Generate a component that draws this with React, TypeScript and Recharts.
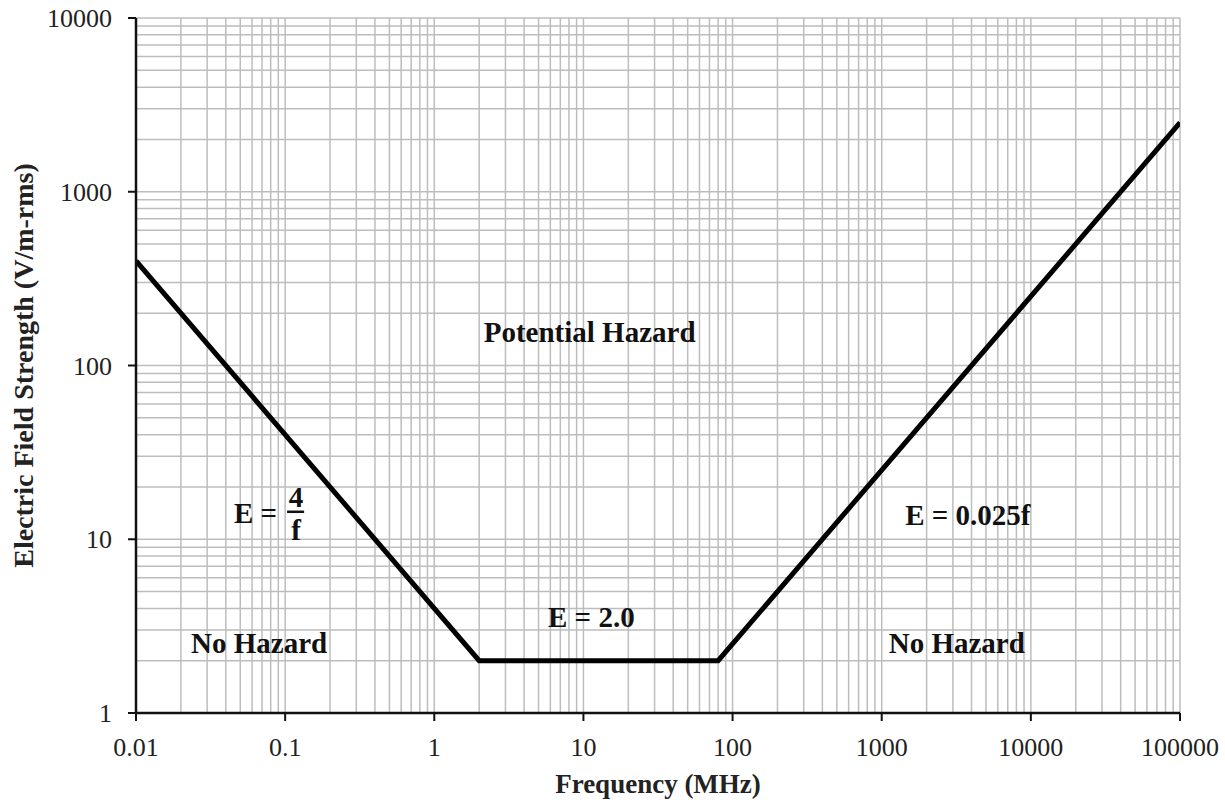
import React from 'react';
import {
  ComposedChart, Line, XAxis, YAxis, CartesianGrid, ReferenceDot,
} from 'recharts';

// Break points of the limit curve (MHz, V/m-rms)
const frequency = [0.01, 2, 80, 100000];
const fieldStrength = [400, 2, 2, 2500];

const xTicks = [0.01, 0.1, 1, 10, 100, 1000, 10000, 100000];
const yTicks = [1, 10, 100, 1000, 10000];
const minorSteps = [1, 2, 3, 4, 5, 6, 7, 8, 9];

// Text placed in the plot, in data coordinates
const notes = [
  { id: 'potential', x: 11, y: 156, text: 'Potential Hazard' },
  { id: 'eflat', x: 11.3, y: 3.57, text: 'E = 2.0' },
  { id: 'ehigh', x: 3776, y: 13.8, text: 'E = 0.025f' },
  { id: 'noLeft', x: 0.0669, y: 2.53, text: 'No Hazard' },
  { id: 'noRight', x: 3186, y: 2.53, text: 'No Hazard' },
];
const fractionNote = { x: 0.0734, y: 14.2, lhs: 'E =', num: '4', den: 'f' };

const data = frequency.map((f, i) => ({ f, e: fieldStrength[i] }));

const gridFrom = (decades: number[]) => {
  const out: number[] = [];
  decades.slice(0, -1).forEach((d) => minorSteps.forEach((m) => out.push(d * m)));
  out.push(decades[decades.length - 1]);
  return out;
};
const xGrid = gridFrom(xTicks);
const yGrid = gridFrom(yTicks);

const FONT = '"Liberation Serif", "Times New Roman", serif';

const NoteLabel = (text: string) => (props: any) => {
  const { viewBox } = props;
  const cx = viewBox.x + (viewBox.width || 0) / 2;
  const cy = viewBox.y + (viewBox.height || 0) / 2;
  return (
    <text x={cx} y={cy} textAnchor="middle" dominantBaseline="central"
      fontFamily={FONT} fontWeight="bold" fontSize={29} fill="#111">
      {text}
    </text>
  );
};

const FractionLabel = (props: any) => {
  const { viewBox } = props;
  const cx = viewBox.x + (viewBox.width || 0) / 2;
  const cy = viewBox.y + (viewBox.height || 0) / 2;
  return (
    <g fontFamily={FONT} fontWeight="bold" fontSize={29} fill="#111">
      <text x={cx + 12} y={cy} textAnchor="end" dominantBaseline="central">{fractionNote.lhs}</text>
      <text x={cx + 31} y={cy - 16} textAnchor="middle" dominantBaseline="central">{fractionNote.num}</text>
      <line x1={cx + 22} x2={cx + 39} y1={cy - 1} y2={cy - 1} stroke="#111" strokeWidth={2.5} />
      <text x={cx + 31} y={cy + 17} textAnchor="middle" dominantBaseline="central">{fractionNote.den}</text>
    </g>
  );
};

const XTitle = (props: any) => {
  const { viewBox } = props;
  return (
    <text x={viewBox.x + viewBox.width / 2} y={viewBox.y + 71} textAnchor="middle"
      dominantBaseline="central" fontFamily={FONT} fontWeight="bold" fontSize={27} fill="#222">
      Frequency (MHz)
    </text>
  );
};

const YTitle = (props: any) => {
  const { viewBox } = props;
  const cy = viewBox.y + viewBox.height / 2;
  return (
    <text x={23} y={cy} transform={`rotate(-90, 23, ${cy})`} textAnchor="middle"
      dominantBaseline="central" fontFamily={FONT} fontWeight="bold" fontSize={28} fill="#222">
      Electric Field Strength (V/m-rms)
    </text>
  );
};

const tickStyle = { fontFamily: FONT, fontSize: 26, fill: '#222' };

export default function App() {
  return (
    <div style={{ position: 'absolute', left: 0, top: 0, background: '#fff' }}>
      <ComposedChart width={1225} height={800} data={data}
        margin={{ top: 18, right: 45, bottom: 0, left: 0 }}>
        <CartesianGrid stroke="#bdbdbd" strokeWidth={1.5}
          verticalValues={xGrid} horizontalValues={yGrid} />
        <XAxis dataKey="f" type="number" scale="log" domain={[0.01, 100000]}
          ticks={xTicks} tickFormatter={(v: number) => String(v)} interval={0}
          allowDataOverflow height={87} tick={tickStyle} tickSize={8} tickMargin={17}
          axisLine={{ stroke: '#111', strokeWidth: 2.5 }} tickLine={{ stroke: '#111', strokeWidth: 2 }}
          label={<XTitle />} />
        <YAxis dataKey="e" type="number" scale="log" domain={[1, 10000]}
          ticks={yTicks} interval={0} allowDataOverflow width={136}
          tick={tickStyle} tickSize={8} tickMargin={16}
          axisLine={{ stroke: '#111', strokeWidth: 2.5 }} tickLine={{ stroke: '#111', strokeWidth: 2 }}
          label={<YTitle />} />
        <Line dataKey="e" type="linear" stroke="#000" strokeWidth={5} dot={false}
          isAnimationActive={false} />
        {notes.map((n) => (
          <ReferenceDot key={n.id} x={n.x} y={n.y} r={0} fill="none" stroke="none"
            label={NoteLabel(n.text)} />
        ))}
        <ReferenceDot x={fractionNote.x} y={fractionNote.y} r={0} fill="none" stroke="none"
          label={FractionLabel} />
      </ComposedChart>
    </div>
  );
}
